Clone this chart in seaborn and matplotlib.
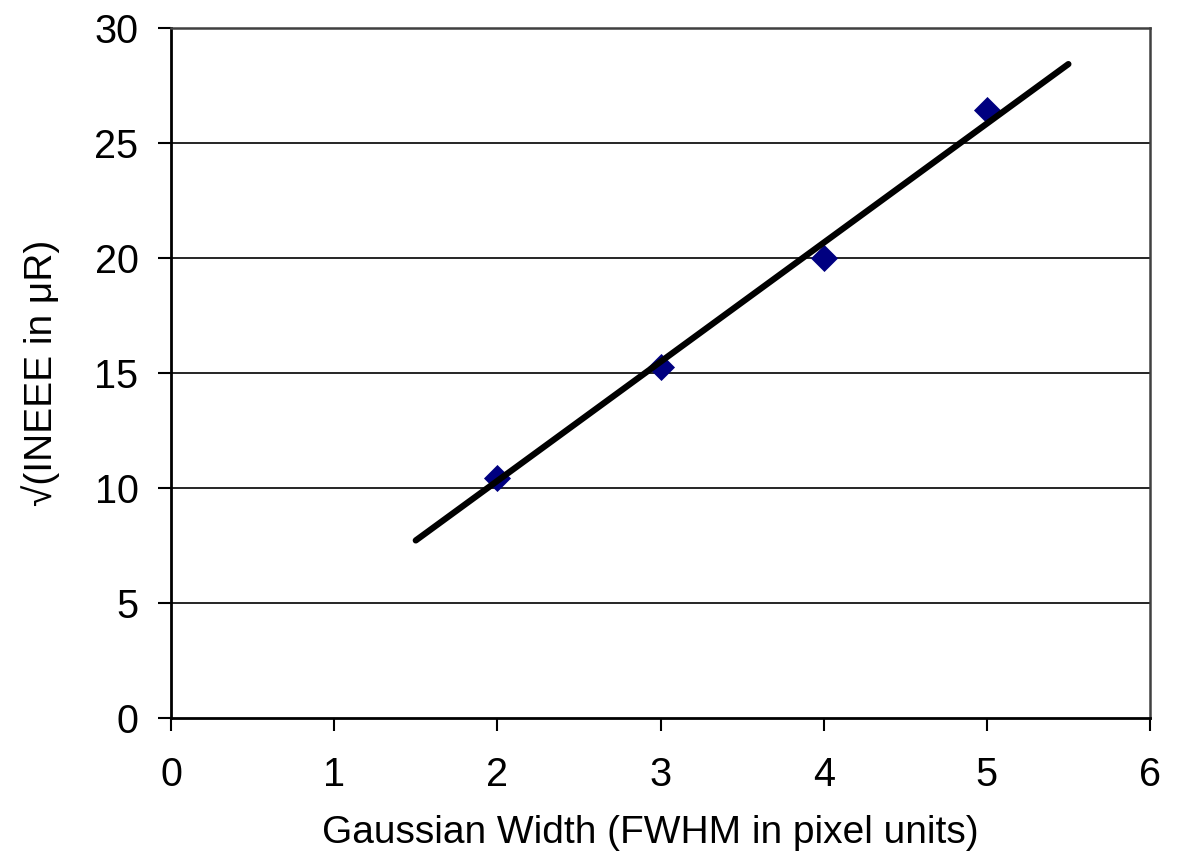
import matplotlib
matplotlib.use("Agg")
import matplotlib.pyplot as plt
import seaborn as sns
import pandas as pd

# Data
width_fwhm = [2, 3, 4, 5]
sqrt_ineee = [10.43, 15.26, 20.0, 26.43]
trend_x = [1.5, 5.5]
trend_y = [7.72, 28.43]
x_ticks = [0, 1, 2, 3, 4, 5, 6]
y_ticks = [0, 5, 10, 15, 20, 25, 30]

sns.set_theme(style="white")
plt.rcParams['font.family'] = ['Liberation Sans', 'DejaVu Sans']

fig = plt.figure(figsize=(11.78, 8.61), dpi=100)
ax = fig.add_axes([0.1452, 0.1661, 0.8310, 0.8014])

for yv in y_ticks[1:]:
    ax.axhline(yv, color='black', lw=1.2, zorder=1)

pts = pd.DataFrame({'x': width_fwhm, 'y': sqrt_ineee})
sns.scatterplot(data=pts, x='x', y='y', marker='D', s=190, color='#000080',
                edgecolor='#000080', linewidth=0, ax=ax, zorder=3)

tr = pd.DataFrame({'x': trend_x, 'y': trend_y})
sns.lineplot(data=tr, x='x', y='y', color='black', lw=4.5, ax=ax, zorder=4,
             solid_capstyle='round')

ax.set_xlim(0, 6)
ax.set_ylim(0, 30)
ax.set_xticks(x_ticks)
ax.set_yticks(y_ticks)
ax.tick_params(axis='both', direction='out', length=9.4, width=1.5, colors='black',
               labelsize=28.5, bottom=True, left=True)
ax.tick_params(axis='y', pad=14)
ax.tick_params(axis='x', pad=18)

for side in ['left', 'bottom']:
    ax.spines[side].set_color('black')
    ax.spines[side].set_linewidth(2.0)
for side in ['top', 'right']:
    ax.spines[side].set_visible(True)
    ax.spines[side].set_color('#404040')
    ax.spines[side].set_linewidth(1.8)

ax.set_xlabel('Gaussian Width (FWHM in pixel units)', fontsize=28, labelpad=15,
              color='black')
ax.xaxis.label.set_x(0.49)
ax.set_ylabel('√(INEEE in μR)', fontsize=28, labelpad=25, color='black')

fig.savefig('out.png', dpi=100, facecolor='white')
